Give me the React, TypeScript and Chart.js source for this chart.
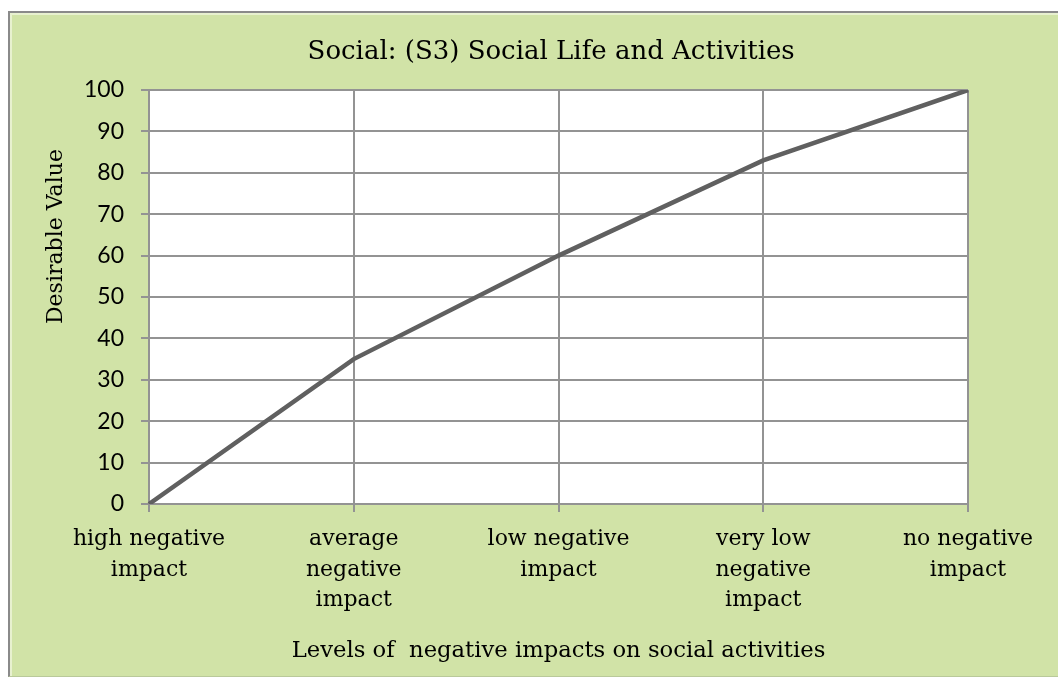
import React, { useEffect, useRef } from "react";
import { Chart, registerables } from "chart.js";

Chart.register(...registerables);

const categories: string[][] = [
  ["high negative", "impact"],
  ["average", "negative", "impact"],
  ["low negative", "impact"],
  ["very low", "negative", "impact"],
  ["no negative", "impact"],
];
const desirableValues: number[] = [0, 35, 60, 83, 100];
const yMin = 0;
const yMax = 100;
const yStep = 10;

const chartTitle = "Social: (S3) Social Life and Activities";
const xTitle = "Levels of  negative impacts on social activities";
const yTitle = "Desirable Value";

const SERIF = "'DejaVu Serif', serif";
const SANS = "Lato, 'Open Sans', sans-serif";

const textPlugin = {
  id: "textPlugin",
  beforeDraw(chart: any) {
    const { ctx, chartArea } = chart;
    ctx.save();
    ctx.fillStyle = "#ffffff";
    ctx.fillRect(chartArea.left, chartArea.top, chartArea.width, chartArea.height);
    ctx.restore();
  },
  afterDraw(chart: any) {
    const { ctx, chartArea } = chart;
    ctx.save();
    ctx.fillStyle = "#000";
    // chart title
    ctx.font = `26px ${SERIF}`;
    ctx.textAlign = "center";
    ctx.textBaseline = "alphabetic";
    ctx.fillText(chartTitle, chartArea.left + chartArea.width * 0.491, 46);
    // y axis title
    ctx.font = `22px ${SERIF}`;
    const cy = chartArea.top + chartArea.height * 0.354;
    ctx.translate(52, cy);
    ctx.rotate(-Math.PI / 2);
    ctx.fillText(yTitle, 0, 0);
    ctx.restore();
  },
};

export default function App() {
  const ref = useRef<HTMLCanvasElement | null>(null);

  useEffect(() => {
    if (!ref.current) return;
    const gridColor = "#939393";
    const chart = new Chart(ref.current, {
      type: "line",
      data: {
        labels: categories,
        datasets: [
          {
            data: desirableValues,
            borderColor: "#606060",
            borderWidth: 4.5,
            pointRadius: 0,
            pointHoverRadius: 0,
            tension: 0,
            fill: false,
          },
        ],
      },
      options: {
        animation: false,
        responsive: false,
        layout: { padding: { left: 0, right: 90, top: 77, bottom: 0 } },
        plugins: {
          legend: { display: false },
          tooltip: { enabled: false },
          title: { display: false },
        },
        scales: {
          x: {
            type: "category",
            offset: false,
            grid: {
              color: gridColor,
              lineWidth: 2,
              drawTicks: true,
              tickLength: 8,
              tickColor: gridColor,
            },
            border: { color: gridColor, width: 2 },
            ticks: {
              color: "#000",
              font: { family: SERIF, size: 22, lineHeight: 1.395 },
              padding: 12,
              maxRotation: 0,
              minRotation: 0,
              autoSkip: false,
            },
            title: {
              display: true,
              text: xTitle,
              color: "#000",
              font: { family: SERIF, size: 22.7, lineHeight: 1.2 },
              padding: { top: 0, bottom: 11.3 },
            },
            afterFit: (s: any) => {
              s.height = 172;
            },
          },
          y: {
            min: yMin,
            max: yMax,
            grid: {
              color: gridColor,
              lineWidth: 2,
              drawTicks: true,
              tickLength: 8,
              tickColor: gridColor,
            },
            border: { color: gridColor, width: 2 },
            ticks: {
              stepSize: yStep,
              color: "#000",
              font: { family: SANS, size: 23 },
              padding: 17,
            },
            afterFit: (s: any) => {
              s.width = 139;
            },
          },
        },
      },
      plugins: [textPlugin],
    });
    return () => chart.destroy();
  }, []);

  return (
    <div
      style={{
        position: "absolute",
        left: 8,
        top: 11,
        width: 1050,
        height: 666,
        boxSizing: "border-box",
        borderLeft: "2px solid #8a8a8a",
        borderTop: "2px solid #8a8a8a",
        borderBottom: "1px solid #b9c99a",
        background: "#D1E3A7",
        boxShadow: "inset 2px 2px 0 #e8f1d0",
        overflow: "hidden",
      }}
    >
      <canvas
        ref={ref}
        width={1048}
        height={663}
        style={{ position: "absolute", left: 0, top: 0, width: 1048, height: 663 }}
      />
    </div>
  );
}
